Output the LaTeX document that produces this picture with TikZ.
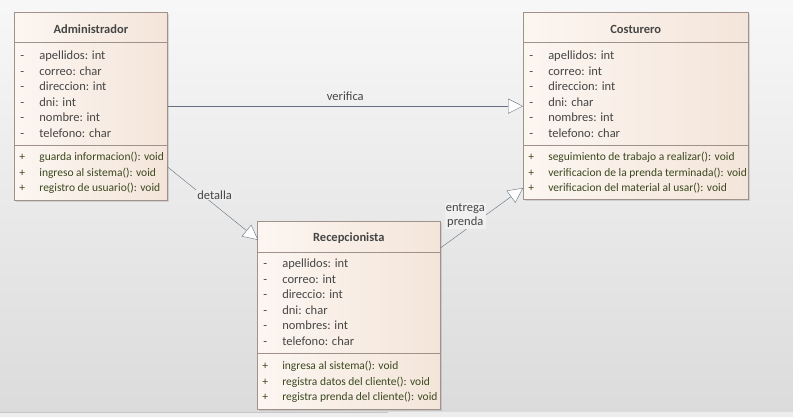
\documentclass[tikz,border=0pt]{standalone}
\usepackage{fontspec}
\setmainfont{Carlito}
\usepackage{tikz}
\usetikzlibrary{arrows,arrows.meta,positioning,shapes,calc,shadows}
\definecolor{boxline}{RGB}{160,146,138}
\definecolor{boxfillL}{RGB}{252,246,241}
\definecolor{boxfillR}{RGB}{244,229,218}
\definecolor{txtgray}{RGB}{70,70,70}
\definecolor{txtolive}{RGB}{58,72,30}
\definecolor{linkcol}{RGB}{100,112,130}
\newcommand{\priv}{\makebox[19pt][l]{-}}
\newcommand{\publ}{\makebox[20pt][l]{+}}

\begin{document}
\begin{tikzpicture}[x=1pt, y=-1pt, font=\fontsize{12}{15.5}\selectfont,
class box/.style={draw=boxline, left color=boxfillL, right color=boxfillR, anchor=north west, inner sep=0pt,
  drop shadow={shadow xshift=2pt, shadow yshift=-2pt, opacity=.25}},
class name/.style={font=\fontsize{12.5}{14}\selectfont\bfseries, text=txtgray},
attr list/.style={anchor=north west, align=left, inner sep=0pt, text=txtgray, font=\fontsize{12.5}{15.5}\selectfont},
meth list/.style={anchor=north west, align=left, inner sep=0pt, text=txtolive, font=\fontsize{11.5}{15.5}\selectfont},
link/.style={draw=linkcol, -{Triangle[open, length=15pt, width=15pt, fill=white]}},
link label/.style={text=txtgray, align=center, inner sep=1pt, font=\fontsize{12.5}{14}\selectfont}]
% background
\shade[top color=white!97!black, bottom color=white!86!black] (0,0) rectangle (793,412);
\fill[white!93!black] (0,412) rectangle (793,417);
\draw[white!78!black] (0,412) -- (388,412);
\useasboundingbox (0,0) rectangle (793,417);

\begin{scope}
% Administrador
\node[class box, minimum width=153pt, minimum height=188pt] (adm) at (14,12) {};
\node[class name] (admname) at ($(adm.north)+(0,17)$) {Administrador};
\draw[boxline] ($(adm.north west)+(0,30)$) -- ($(adm.north east)+(0,30)$);
\draw[boxline] ($(adm.north west)+(0,133)$) -- ($(adm.north east)+(0,133)$);
\node[attr list] (admattr) at ($(adm.north west)+(6,39)$) {\priv apellidos: int\\\priv correo: char\\\priv direccion: int\\\priv dni: int\\\priv nombre: int\\\priv telefono: char};
\node[meth list] (admmeth) at ($(adm.north west)+(5,140)$) {\publ guarda informacion(): void\\\publ ingreso al sistema(): void\\\publ registro de usuario(): void};

% Costurero
\node[class box, minimum width=225pt, minimum height=187pt] (cos) at (523,12) {};
\node[class name] (cosname) at ($(cos.north)+(0,17)$) {Costurero};
\draw[boxline] ($(cos.north west)+(0,30)$) -- ($(cos.north east)+(0,30)$);
\draw[boxline] ($(cos.north west)+(0,133)$) -- ($(cos.north east)+(0,133)$);
\node[attr list] (cosattr) at ($(cos.north west)+(6,39)$) {\priv apellidos: int\\\priv correo: int\\\priv direccion: int\\\priv dni: char\\\priv nombres: int\\\priv telefono: char};
\node[meth list] (cosmeth) at ($(cos.north west)+(5,140)$) {\publ seguimiento de trabajo a realizar(): void\\\publ verificacion de la prenda terminada(): void\\\publ verificacion del material al usar(): void};

% Recepcionista
\node[class box, minimum width=183pt, minimum height=188pt] (rec) at (257,221) {};
\node[class name] (recname) at ($(rec.north)+(0,17)$) {Recepcionista};
\draw[boxline] ($(rec.north west)+(0,31)$) -- ($(rec.north east)+(0,31)$);
\draw[boxline] ($(rec.north west)+(0,132)$) -- ($(rec.north east)+(0,132)$);
\node[attr list] (recattr) at ($(rec.north west)+(6,38)$) {\priv apellidos: int\\\priv correo: int\\\priv direccio: int\\\priv dni: char\\\priv nombres: int\\\priv telefono: char};
\node[meth list] (recmeth) at ($(rec.north west)+(5,140)$) {\publ ingresa al sistema(): void\\\publ registra datos del cliente(): void\\\publ registra prenda del cliente(): void};
\end{scope}

\begin{scope}
\draw[link] (adm.east) -- node[link label, above=4pt]{verifica} (adm.east -| cos.west);
\draw[link] ($(adm.north east)+(0,155)$) -- node[link label, fill=white!93!black, pos=.52, yshift=10pt]{detalla} ($(rec.north west)+(1,19)$);
\draw[link] ($(rec.north east)+(0,27)$) -- node[link label, fill=white!94!black, pos=.3, yshift=14pt]{entrega\\prenda} ($(cos.north west)+(0,176)$);
\end{scope}
\end{tikzpicture}
\end{document}
